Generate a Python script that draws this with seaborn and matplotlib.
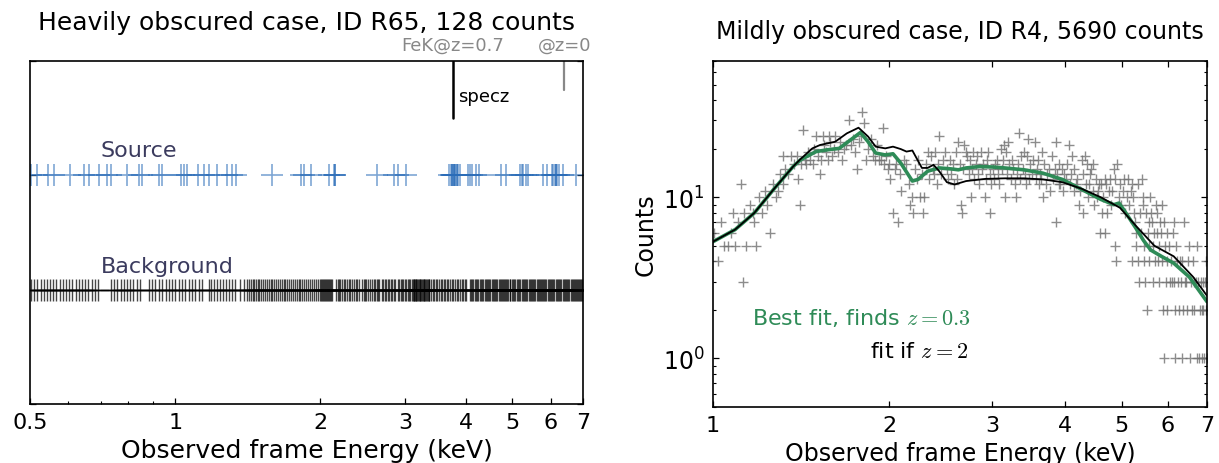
import numpy as np
import pandas as pd
import matplotlib
matplotlib.use("Agg")
import matplotlib.pyplot as plt
import matplotlib.transforms as mtransforms
from matplotlib.ticker import FixedLocator, FixedFormatter, NullFormatter, LogLocator
import seaborn as sns

# ---------------- data ----------------
left_title = "Heavily obscured case, ID R65, 128 counts"
right_title = "Mildly obscured case, ID R4, 5690 counts"
xlabel = "Observed frame Energy (keV)"

fek_specz = 3.765   # FeK line at z=0.7 (keV)
fek_z0 = 6.4        # FeK line at z=0 (keV)

left_ticks = [0.5, 1, 2, 3, 4, 5, 6, 7]
left_ticklabels = ["0.5", "1", "2", "3", "4", "5", "6", "7"]
right_ticks = [1, 2, 3, 4, 5, 6, 7]
right_ticklabels = ["1", "2", "3", "4", "5", "6", "7"]

# source event energies (keV)
source_energy = [
    0.502, 0.516, 0.546, 0.561, 0.605, 0.648, 0.663, 0.695, 0.721, 0.736,
    0.793, 0.841, 0.854, 0.927, 0.939, 1.028, 1.041, 1.058, 1.117, 1.147,
    1.175, 1.219, 1.278, 1.309, 1.337, 1.584, 1.819, 1.849, 1.909, 2.080,
    2.133, 2.143, 2.14, 2.623, 2.844, 2.891, 3.008, 3.698, 3.723, 3.746,
    3.770, 3.75, 3.788, 3.78, 3.806, 3.80, 3.831, 3.84, 3.861, 3.892,
    4.049, 4.082, 4.115, 4.201, 4.268, 4.734, 4.847, 5.18, 5.22, 5.26,
    5.33, 5.39, 5.79, 5.89, 6.03, 6.07, 6.12, 6.14, 6.16, 6.17, 6.25,
    6.37, 6.76,
]

# background event energies (keV)
background_energy = [
    0.502, 0.510, 0.518, 0.526, 0.534, 0.542, 0.550, 0.559, 0.567, 0.576,
    0.585, 0.594, 0.603, 0.612, 0.622, 0.631, 0.641, 0.651, 0.661, 0.671,
    0.681, 0.692,
    0.736, 0.748, 0.759, 0.771, 0.783, 0.795, 0.807, 0.819, 0.832, 0.845,
    0.882, 0.896, 0.910, 0.925, 0.940, 0.955, 0.970, 0.985, 1.001, 1.017,
    1.033, 1.050, 1.066, 1.083, 1.101, 1.118, 1.136,
    1.172, 1.188, 1.205, 1.222, 1.240, 1.258, 1.276, 1.294, 1.312, 1.330,
    1.36, 1.39,
    1.410, 1.422, 1.434, 1.446, 1.458, 1.470, 1.482, 1.494, 1.506, 1.520,
    1.534, 1.548, 1.562, 1.576, 1.590, 1.604, 1.618, 1.632, 1.647, 1.662,
    1.677, 1.692, 1.707, 1.722, 1.738, 1.754, 1.770, 1.786, 1.802, 1.818,
    1.835, 1.852, 1.869, 1.886, 1.903, 1.920, 1.937, 1.955, 1.973, 1.991,
    2.005, 2.015, 2.025, 2.035, 2.045, 2.055, 2.065, 2.075, 2.085, 2.095,
    2.105, 2.115,
    2.15, 2.17, 2.185, 2.20, 2.22, 2.24, 2.25, 2.27, 2.29, 2.30, 2.33, 2.35,
    2.37, 2.38, 2.40,
    2.44, 2.46, 2.47, 2.49, 2.51, 2.53, 2.56, 2.58, 2.60, 2.62, 2.63, 2.65,
    2.68, 2.70, 2.72, 2.74, 2.76, 2.78, 2.80, 2.82, 2.84, 2.86, 2.89, 2.91,
    2.93, 2.95, 2.97, 2.99, 3.01, 3.03, 3.05, 3.07,
    3.10, 3.11, 3.12, 3.13, 3.14, 3.15, 3.16, 3.175, 3.19, 3.20, 3.21, 3.22,
    3.235, 3.25, 3.26, 3.27, 3.285, 3.30, 3.31, 3.32, 3.335, 3.35, 3.36,
    3.39, 3.42, 3.44, 3.47, 3.49, 3.52, 3.55, 3.57, 3.60, 3.63, 3.66, 3.68,
    3.71, 3.74, 3.77, 3.80, 3.83, 3.86, 3.89, 3.92, 3.95, 3.98, 4.01,
    4.08, 4.10, 4.13, 4.15, 4.18, 4.20, 4.23, 4.25, 4.28, 4.30, 4.33, 4.35,
    4.38, 4.40, 4.43, 4.45, 4.48, 4.50, 4.53, 4.55, 4.58, 4.60, 4.63, 4.65,
    4.68, 4.70, 4.73, 4.75, 4.78, 4.80, 4.83, 4.85, 4.88, 4.90, 4.93, 4.95,
    4.98, 5.01, 5.04, 5.07, 5.10, 5.13, 5.16, 5.19, 5.22, 5.25, 5.28, 5.31,
    5.34, 5.37, 5.40, 5.43, 5.46, 5.49, 5.52, 5.55, 5.58, 5.61, 5.64, 5.67,
    5.70, 5.73, 5.76, 5.79, 5.82, 5.85, 5.88, 5.91, 5.94, 5.97, 6.00, 6.035,
    6.07, 6.105, 6.14, 6.175, 6.21, 6.245, 6.28, 6.315, 6.35, 6.385, 6.42,
    6.455, 6.49, 6.525, 6.56, 6.595, 6.63, 6.665, 6.70, 6.735, 6.77, 6.805,
    6.84, 6.875, 6.91, 6.945, 6.98,
]

# right panel: observed spectrum (channel energy, counts)
spec_energy = [
    1.005, 1.02, 1.03, 1.045, 1.06, 1.075, 1.084, 1.09, 1.105, 1.115, 1.126, 1.129,
    1.14, 1.155, 1.169, 1.175, 1.185, 1.20, 1.214, 1.226, 1.235, 1.25, 1.265, 1.28,
    1.29, 1.30, 1.315, 1.32, 1.33, 1.345, 1.36, 1.375, 1.39, 1.40,
    1.41, 1.415, 1.423, 1.435, 1.44, 1.455, 1.465, 1.48, 1.49, 1.50, 1.51, 1.525,
    1.53, 1.54, 1.55, 1.56, 1.57, 1.58, 1.585, 1.595,
    1.61, 1.62, 1.635, 1.65, 1.66, 1.675, 1.69, 1.708, 1.72, 1.735, 1.75, 1.76,
    1.775, 1.79, 1.80, 1.815, 1.83, 1.845, 1.86, 1.875, 1.89, 1.91, 1.925, 1.94,
    1.95, 1.965, 1.98, 1.995,
    2.00, 2.01, 2.03, 2.045, 2.06, 2.075, 2.09, 2.10, 2.12, 2.14, 2.16, 2.175,
    2.19, 2.20, 2.215, 2.23, 2.245, 2.26, 2.275, 2.29, 2.30, 2.315, 2.33, 2.345,
    2.36, 2.375, 2.39, 2.40, 2.415, 2.43, 2.44, 2.455, 2.47, 2.49,
    2.51, 2.525, 2.54, 2.555, 2.57, 2.585, 2.60, 2.61, 2.63, 2.645, 2.655, 2.67,
    2.68, 2.69, 2.71, 2.725, 2.74, 2.755, 2.76, 2.775, 2.79, 2.80, 2.815, 2.83,
    2.84, 2.855, 2.87, 2.885, 2.90, 2.915, 2.93, 2.945, 2.96, 2.975, 2.98, 2.99,
    3.01, 3.025, 3.04, 3.06, 3.075, 3.09, 3.11, 3.12, 3.135, 3.15, 3.16, 3.17,
    3.185, 3.20, 3.215, 3.23, 3.25, 3.265, 3.28, 3.30, 3.315, 3.33, 3.34, 3.355,
    3.37, 3.385, 3.40, 3.415, 3.43, 3.45, 3.46, 3.475, 3.49,
    3.51, 3.53, 3.55, 3.565, 3.58, 3.60, 3.615, 3.63, 3.645, 3.66, 3.67, 3.69,
    3.71, 3.73, 3.75, 3.77, 3.80, 3.82, 3.84, 3.86, 3.865, 3.88, 3.90, 3.915,
    3.93, 3.95, 3.97, 3.99,
    4.01, 4.03, 4.06, 4.08, 4.09, 4.12, 4.14, 4.15, 4.18, 4.20, 4.22, 4.24,
    4.27, 4.29, 4.30, 4.33, 4.35, 4.36, 4.38, 4.40, 4.42, 4.43, 4.46, 4.47, 4.49,
    4.52, 4.53, 4.55, 4.58, 4.60, 4.61, 4.63, 4.65, 4.68, 4.69, 4.71, 4.72,
    4.75, 4.78, 4.80, 4.82, 4.86, 4.87, 4.88, 4.90, 4.92, 4.94, 4.97, 4.99,
    5.02, 5.05, 5.07, 5.10, 5.13, 5.15, 5.18, 5.20, 5.21, 5.23, 5.26, 5.28,
    5.29, 5.30, 5.33, 5.34, 5.35, 5.37, 5.40, 5.41, 5.43, 5.45, 5.46, 5.47, 5.49,
    5.51, 5.53, 5.54, 5.56, 5.57, 5.58, 5.60, 5.61, 5.63, 5.65, 5.66, 5.68,
    5.70, 5.72, 5.74, 5.75, 5.77, 5.79, 5.80, 5.82, 5.84, 5.86, 5.87, 5.88,
    5.90, 5.92, 5.94, 5.96, 5.97, 5.98, 5.99,
    6.02, 6.04, 6.07, 6.09, 6.12, 6.14, 6.15, 6.16, 6.17, 6.20, 6.21, 6.24,
    6.27, 6.29, 6.31, 6.34, 6.35, 6.38, 6.40, 6.42, 6.45, 6.47, 6.50, 6.53,
    6.55, 6.57, 6.60, 6.62, 6.64, 6.66, 6.70, 6.72, 6.74, 6.76, 6.78, 6.80,
    6.83, 6.85, 6.86, 6.88, 6.90, 6.92, 6.95, 6.97, 6.98, 6.99,
]
spec_counts = [
    6, 4, 7, 5, 5, 6, 8, 5, 7, 12, 3, 8,
    5, 9, 8, 7, 5, 10, 8, 11, 9, 6, 12, 10,
    11, 14, 12, 18, 15, 14, 18, 16, 18, 13,
    9, 16, 26, 17, 16, 19, 17, 16, 20, 24, 18, 14,
    17, 24, 21, 19, 17, 24, 22, 18,
    20, 24, 19, 22, 17, 20, 21, 30, 21, 23, 19, 15,
    22, 24, 34, 29, 17, 20, 23, 18, 17, 21, 17, 17,
    27, 16, 18, 15,
    16, 13, 8, 15, 16, 7, 14, 11, 17, 16, 12, 9,
    10, 8, 15, 13, 17, 10, 14, 8, 10, 16, 19, 13,
    18, 15, 14, 19, 12, 16, 24, 14, 17, 19,
    15, 13, 17, 14, 16, 12, 19, 13, 22, 16, 9, 8,
    15, 21, 19, 18, 14, 17, 10, 15, 19, 13, 16, 18,
    14, 12, 19, 15, 16, 10, 13, 17, 19, 14, 8, 12,
    15, 13, 16, 17, 14, 12, 20, 15, 17, 21, 10, 19,
    14, 22, 16, 13, 17, 15, 12, 10, 14, 16, 25, 13,
    18, 15, 19, 14, 12, 18, 23, 13, 16,
    14, 17, 22, 13, 15, 17, 12, 14, 13, 19, 10, 16,
    12, 14, 15, 11, 18, 13, 15, 22, 7, 14, 16, 12,
    12, 15, 11, 14,
    13, 16, 21, 12, 14, 18, 11, 15, 12, 13, 9, 11,
    17, 14, 8, 18, 12, 16, 10, 12, 14, 15, 11, 16, 9,
    13, 10, 11, 12, 6, 12, 8, 10, 13, 6, 12, 8,
    11, 13, 9, 11, 15, 5, 13, 4, 16, 10, 12, 9,
    11, 13, 8, 10, 13, 9, 11, 12, 4, 10, 8, 7,
    6, 5, 12, 4, 3, 8, 6, 13, 9, 10, 5, 4, 3,
    8, 2, 6, 7, 5, 4, 10, 8, 7, 5, 3, 6,
    4, 9, 8, 6, 4, 5, 3, 7, 6, 4, 9, 2,
    7, 1, 5, 3, 6, 4, 2,
    5, 3, 4, 3, 6, 7, 3, 2, 1, 5, 4, 3,
    2, 4, 3, 1, 4, 2, 7, 3, 3, 2, 4, 5,
    1, 3, 2, 4, 3, 2, 3, 1, 5, 3, 1, 2,
    3, 2, 1, 3, 2, 1, 3, 4, 2, 1,
]

# best-fit model (z = 0.3)
best_energy = [1.0, 1.091, 1.177, 1.27, 1.371, 1.413, 1.501, 1.571, 1.644, 1.72,
               1.787, 1.842, 1.898, 1.971, 2.032, 2.095, 2.193, 2.243, 2.329, 2.438,
               2.551, 2.629, 2.71, 2.858, 3.014, 3.154, 3.402, 3.669, 3.959, 4.27,
               4.606, 4.85, 4.95, 5.05, 5.28, 5.45, 5.61, 5.85, 6.14, 6.53, 7.0]
best_counts = [5.3, 6.3, 8.0, 11.2, 15.5, 17.1, 19.2, 19.7, 20.1, 22.7,
               25.2, 22.1, 18.8, 18.3, 18.6, 16.3, 12.6, 12.9, 14.5, 15.2,
               15.0, 14.8, 15.2, 15.5, 15.4, 15.2, 14.8, 14.1, 12.9, 11.2,
               9.7, 9.0, 9.2, 8.3, 6.5, 5.4, 4.7, 4.3, 3.9, 3.2, 2.25]

# model if z = 2
z2_energy = [1.0, 1.091, 1.177, 1.27, 1.371, 1.413, 1.479, 1.525, 1.618, 1.694,
             1.774, 1.842, 1.898, 1.971, 2.032, 2.095, 2.143, 2.193, 2.277, 2.329,
             2.383, 2.438, 2.512, 2.59, 2.71, 2.924, 3.154, 3.402, 3.669, 3.959,
             4.27, 4.606, 4.969, 5.28, 5.69, 6.14, 6.63, 7.0]
z2_counts = [5.3, 6.3, 8.0, 11.2, 15.5, 17.3, 20.1, 21.1, 22.1, 24.9,
             27.0, 23.8, 20.6, 20.1, 20.6, 19.9, 19.2, 19.5, 15.2, 15.2,
             15.9, 14.5, 12.4, 12.0, 12.6, 13.0, 13.1, 13.1, 12.9, 12.4,
             11.3, 10.0, 8.6, 6.7, 5.0, 4.3, 3.2, 2.45]

# ---------------- style ----------------
sns.set_style("ticks")
plt.rcParams.update({
    "font.family": ["DejaVu Sans"],
    "mathtext.fontset": "cm",
    "xtick.direction": "in", "ytick.direction": "in",
    "xtick.major.size": 4.5, "ytick.major.size": 4.5,
    "xtick.minor.size": 2.5, "ytick.minor.size": 2.5,
    "xtick.major.width": 0.9, "ytick.major.width": 0.9,
    "xtick.minor.width": 0.8, "ytick.minor.width": 0.8,
    "xtick.major.pad": 6, "ytick.major.pad": 6,
    "axes.linewidth": 1.2, "axes.edgecolor": "black",
    "xtick.color": "black", "ytick.color": "black",
    "axes.labelcolor": "black", "text.color": "black",
})

W, H = 1219, 464
fig = plt.figure(figsize=(W / 100, H / 100), dpi=100)
axL = fig.add_axes([30 / W, (H - 405) / H, 553 / W, 343 / H])
axR = fig.add_axes([713 / W, (H - 408) / H, 494 / W, 346 / H])

# ---------------- left panel ----------------
bkg_df = pd.DataFrame({"E": background_energy, "row": 0.0})
src_df = pd.DataFrame({"E": source_energy, "row": 1.0})
sns.scatterplot(data=bkg_df, x="E", y="row", marker="+", s=16.5 ** 2,
                color="black", alpha=0.72, linewidth=1.0, legend=False, ax=axL)
sns.scatterplot(data=src_df, x="E", y="row", marker="+", s=16 ** 2,
                color="#2a6cb8", alpha=0.6, linewidth=1.2, legend=False, ax=axL)

axL.set_xscale("log")
axL.set_xlim(0.5, 7)
axL.set_ylim(-1, 2)
axL.xaxis.set_major_locator(FixedLocator(left_ticks))
axL.xaxis.set_major_formatter(FixedFormatter(left_ticklabels))
axL.xaxis.set_minor_locator(FixedLocator([0.6, 0.7, 0.8, 0.9]))
axL.xaxis.set_minor_formatter(NullFormatter())
axL.set_yticks([-1, 0, 1, 2])
axL.set_yticklabels([])
axL.tick_params(axis="x", which="both", top=False, bottom=True, labelsize=16)
axL.tick_params(axis="y", which="both", left=True, right=True)
axL.set_xlabel(xlabel, fontsize=18)
axL.set_ylabel("")
axL.set_title(left_title, fontsize=18, y=1.115, pad=0, va="center")

axL.axvline(fek_specz, ymin=0.833, ymax=1.0, color="black", lw=1.8)
axL.axvline(fek_z0, ymin=0.9167, ymax=1.0, color="#888888", lw=1.6)
trL = mtransforms.blended_transform_factory(axL.transData, axL.transAxes)
axL.text(fek_specz, 1.047, "FeK@z=0.7", transform=trL, ha="center", va="center",
         color="#888888", fontsize=13)
axL.text(fek_z0, 1.047, "@z=0", transform=trL, ha="center", va="center",
         color="#888888", fontsize=13)
axL.text(3.86, 1.69, "specz", ha="left", va="center", fontsize=13, color="black")
axL.text(0.70, 1.22, "Source", ha="left", va="center", fontsize=16, color="#3b3b5e")
axL.text(0.70, 0.21, "Background", ha="left", va="center", fontsize=16, color="#3b3b5e")

# ---------------- right panel ----------------
spec_df = pd.DataFrame({"E": spec_energy, "counts": spec_counts})
sns.scatterplot(data=spec_df, x="E", y="counts", marker="+", s=6.5 ** 2,
                color="#707070", alpha=0.8, linewidth=1.0, legend=False, ax=axR)
sns.lineplot(x=best_energy, y=best_counts, color="#2e8b57", lw=2.6, ax=axR)
sns.lineplot(x=z2_energy, y=z2_counts, color="black", lw=1.3, ax=axR)

axR.set_xscale("log")
axR.set_yscale("log")
axR.set_xlim(1, 7)
axR.set_ylim(0.5, 70)
axR.xaxis.set_major_locator(FixedLocator(right_ticks))
axR.xaxis.set_major_formatter(FixedFormatter(right_ticklabels))
axR.xaxis.set_minor_locator(FixedLocator([]))
axR.yaxis.set_major_locator(LogLocator(base=10))
axR.yaxis.set_minor_locator(LogLocator(base=10, subs=np.arange(2, 10)))
axR.yaxis.set_minor_formatter(NullFormatter())
axR.tick_params(axis="both", which="both", top=True, right=True, labelsize=16)
axR.tick_params(axis="y", which="major", labelsize=17)
axR.set_xlabel(xlabel, fontsize=17)
axR.set_ylabel("Counts", fontsize=17)
axR.set_title(right_title, fontsize=17, y=1.087, pad=0, va="center")

axR.text(1.166, 1.82, "Best fit, finds $z=0.3$", color="#2e8b57", fontsize=16,
         ha="left", va="center")
axR.text(1.856, 1.12, "fit if $z=2$", color="black", fontsize=16,
         ha="left", va="center")

fig.savefig("out.png", dpi=100, facecolor="white")
